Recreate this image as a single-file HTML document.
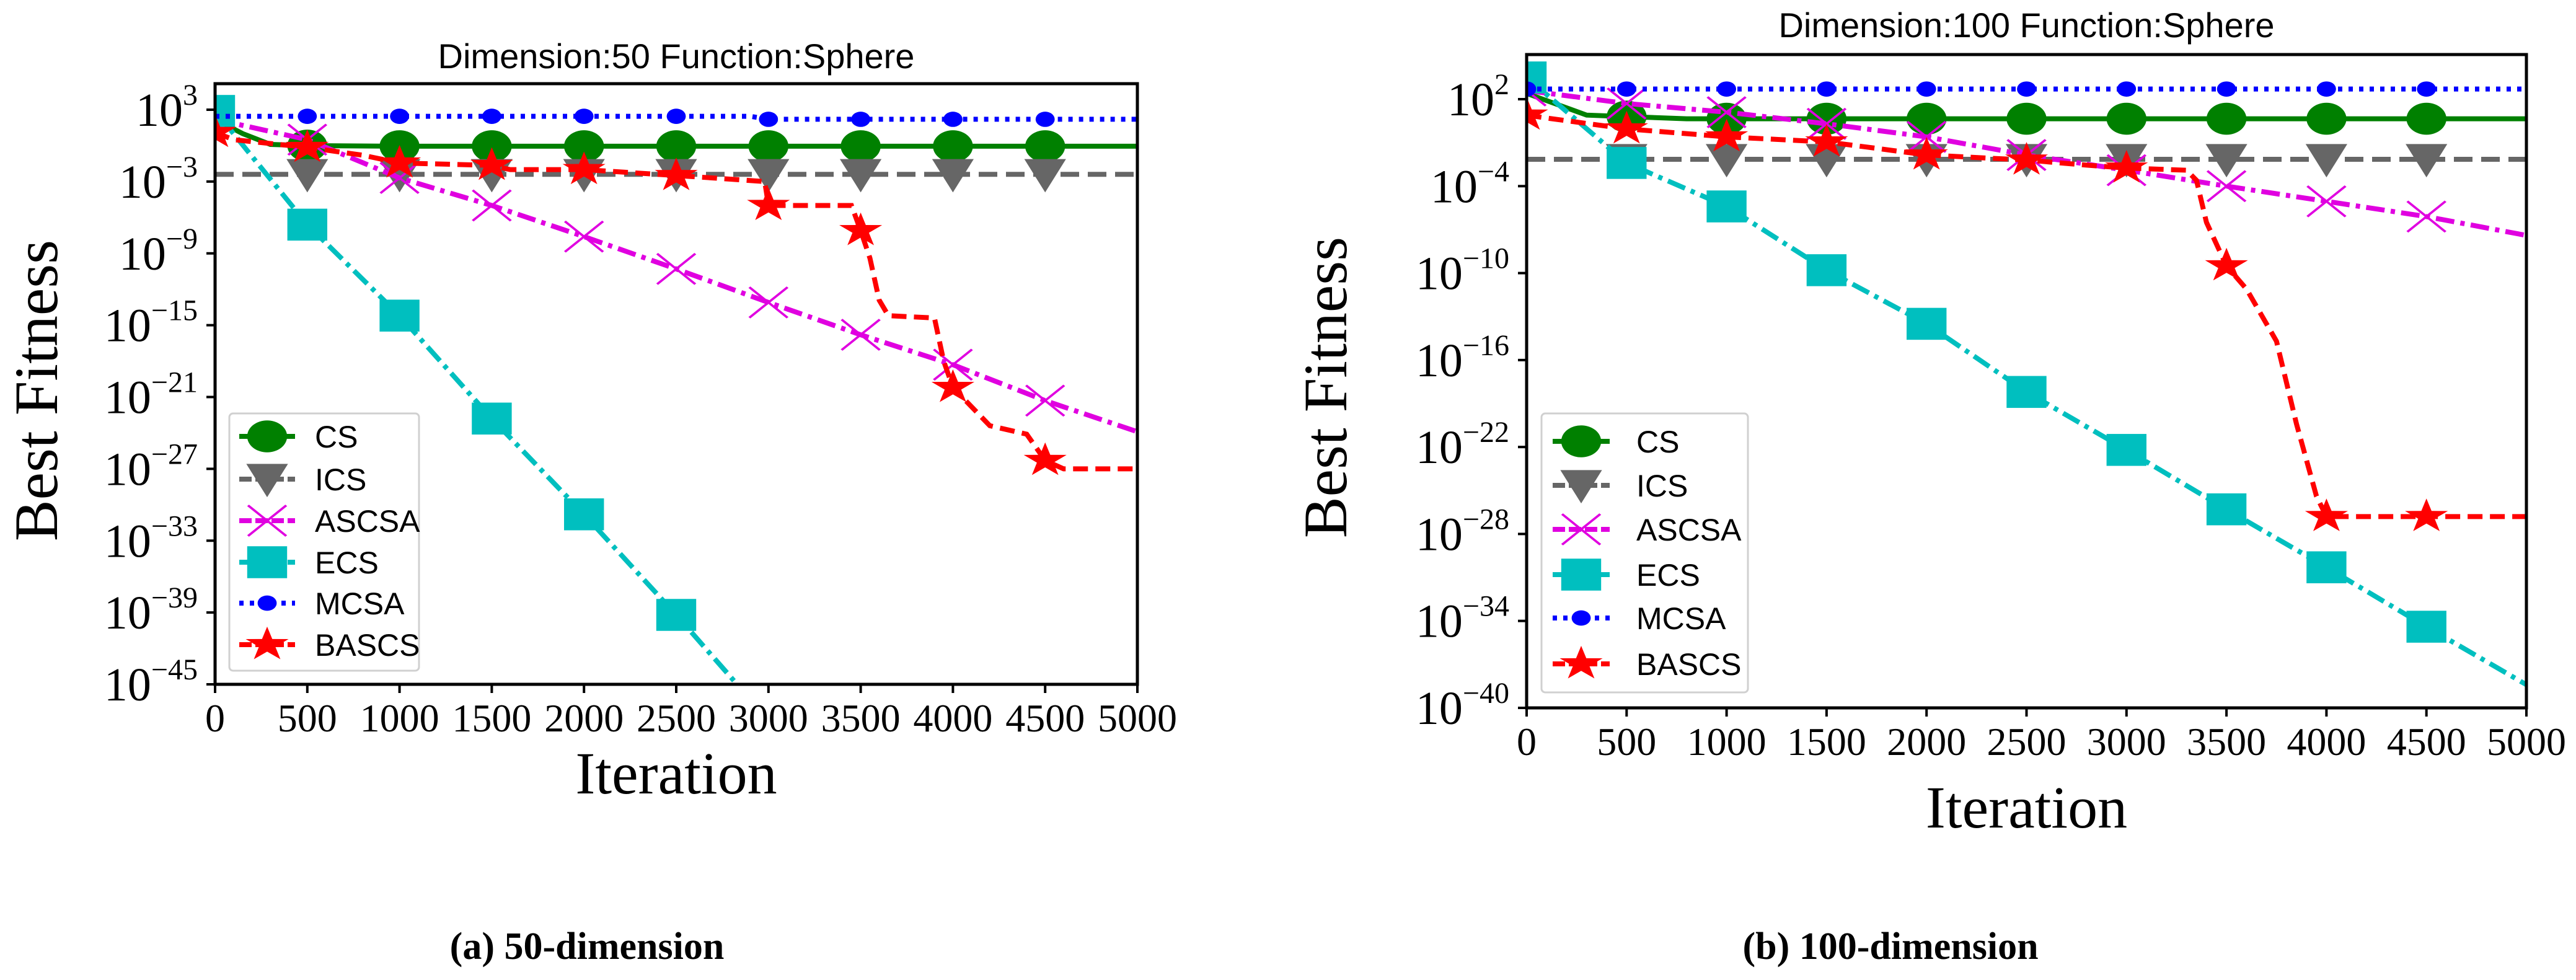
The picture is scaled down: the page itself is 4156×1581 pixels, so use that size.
<!DOCTYPE html>
<html><head><meta charset="utf-8">
<style>
html,body{margin:0;padding:0;background:#fff;}
svg{display:block;}
</style></head>
<body>
<svg id="fig" width="4156" height="1581" viewBox="0 0 4156 1581" xmlns="http://www.w3.org/2000/svg">
<rect x="0" y="0" width="4156" height="1581" fill="#fff"/>
<text x="947" y="1547" text-anchor="middle" font-family="Liberation Serif, serif" font-size="62" font-weight="bold">(a) 50-dimension</text>
<text x="3050" y="1547" text-anchor="middle" font-family="Liberation Serif, serif" font-size="62" font-weight="bold">(b) 100-dimension</text>
</svg>
<script>
// ===== Chart A (Dimension 50) data =====
const iterTicks = [0,500,1000,1500,2000,2500,3000,3500,4000,4500,5000];
const seriesNames = ["CS","ICS","ASCSA","ECS","MCSA","BASCS"];
const aYTicks = [3,-3,-9,-15,-21,-27,-33,-39,-45];
const aCS_x = [0,150,300,500,1000,5000];
const aCS_y = [2.2,1.0,0.1,0.0,-0.05,-0.05];
const aICS_x = [0,5000];
const aICS_y = [-2.4,-2.4];
const aASCSA_x = [0,500,1000,1500,2000,2500,3000,3500,4000,4500,5000];
const aASCSA_y = [2.2,0.5,-2.7,-5,-7.6,-10.3,-13.1,-15.8,-18.3,-21.3,-23.9];
const aECS_x = [0,500,1000,1500,2000,2500,2830];
const aECS_y = [2.9,-6.6,-14.2,-22.8,-30.8,-39.2,-45];
const aMCSA_x = [0,2900,3000,5000];
const aMCSA_y = [2.45,2.45,2.2,2.2];
const aBASCS_x = [0,100,500,800,1000,1500,1600,2000,2500,2700,2980,3000,3450,3500,3550,3600,3650,3900,3950,4000,4200,4400,4500,4600,5000];
const aBASCS_y = [1.1,0.5,-0.15,-0.8,-1.45,-1.65,-2,-2,-2.5,-2.7,-3,-5,-5,-7.1,-9.4,-12.9,-14.2,-14.4,-18,-20.2,-23.4,-24.1,-26.3,-27,-27];

// ===== Chart B (Dimension 100) data =====
const bYTicks = [2,-4,-10,-16,-22,-28,-34,-40];
const bCS_x = [0,300,500,800,5000];
const bCS_y = [2.4,0.9,0.8,0.65,0.65];
const bICS_x = [0,5000];
const bICS_y = [-2.15,-2.15];
const bASCSA_x = [0,500,1000,1500,2000,2500,3000,3500,4000,4500,5000];
const bASCSA_y = [2.6,1.7,1.1,0.3,-0.6,-1.85,-2.9,-4,-5.05,-6.1,-7.4];
const bECS_x = [0,500,1000,1500,2000,2500,3000,3500,4000,4500,5000];
const bECS_y = [3.5,-2.4,-5.4,-9.8,-13.5,-18.2,-22.2,-26.3,-30.3,-34.4,-38.4];
const bMCSA_x = [0,5000];
const bMCSA_y = [2.7,2.7];
const bBASCS_x = [0,100,500,1000,1500,1700,2000,2500,2800,3000,3300,3350,3400,3500,3600,3750,3850,3950,4000,5000];
const bBASCS_y = [0.9,0.7,-0.05,-0.6,-0.95,-1.3,-1.85,-2.2,-2.55,-2.75,-2.9,-3.6,-6.5,-9.5,-11.1,-14.7,-20.4,-25.4,-26.8,-26.8];

const NS = "http://www.w3.org/2000/svg";
const svg = document.getElementById('fig');
function mk(tag, attrs, parent){
  const e = document.createElementNS(NS, tag);
  for (const k in attrs) e.setAttribute(k, attrs[k]);
  (parent||svg).appendChild(e);
  return e;
}
const styles = {
  CS:{color:"#008000",dash:"",marker:"circle"},
  ICS:{color:"#666666",dash:"30,14",marker:"tri"},
  ASCSA:{color:"#e000e0",dash:"30,10,7,10",marker:"x"},
  ECS:{color:"#00bfbf",dash:"30,10,7,10",marker:"square"},
  MCSA:{color:"#0000ff",dash:"7,10",marker:"dot"},
  BASCS:{color:"#ff0000",dash:"24,12",marker:"star"}
};
function drawMarker(g, type, cx, cy, color){
  const t = `translate(${cx},${cy}) scale(1.4,1.12)`;
  let e;
  if (type==="circle") e = mk('circle',{cx:0,cy:0,r:23,fill:color,transform:t},g);
  else if (type==="tri") e = mk('polygon',{points:"-24,-22 24,-22 0,26",fill:color,transform:t},g);
  else if (type==="x") e = mk('path',{d:"M-22,-22L22,22M-22,22L22,-22",stroke:color,'stroke-width':3,fill:"none",transform:t},g);
  else if (type==="square") e = mk('rect',{x:-23,y:-23,width:46,height:46,fill:color,transform:t},g);
  else if (type==="dot") e = mk('circle',{cx:0,cy:0,r:11,fill:color,transform:t},g);
  else if (type==="star"){
    let p=[];
    for(let i=0;i<10;i++){const r=i%2?10:26;const a=-Math.PI/2+i*Math.PI/5;p.push((r*Math.cos(a)).toFixed(1)+","+(r*Math.sin(a)).toFixed(1));}
    e = mk('polygon',{points:p.join(" "),fill:color,transform:t},g);
  }
  return e;
}
function interp(xs, ys, x){
  for (let i=0;i<xs.length-1;i++){
    if (x>=xs[i] && x<=xs[i+1]){
      const f=(x-xs[i])/(xs[i+1]-xs[i]||1);
      return ys[i]+f*(ys[i+1]-ys[i]);
    }
  }
  return null;
}
function chart(cfg){
  const g = mk('g',{});
  
  
  const X = v => cfg.left + (v/5000)*(cfg.right-cfg.left);
  const Y = v => cfg.y0px + (cfg.y0val - v)*cfg.perDec;
  const clip = 'clip-'+cfg.name;
  const defs = mk('defs',{},g);
  const cp = mk('clipPath',{id:clip},defs);
  mk('rect',{x:cfg.left,y:cfg.top,width:cfg.right-cfg.left,height:cfg.bottom-cfg.top},cp);
  const ti = mk('text',{x:(cfg.left+cfg.right)/2,y:cfg.titleY,'text-anchor':'middle','font-family':'Liberation Sans, sans-serif','font-size':56},g);
  
  
  ti.textContent = cfg.title;
  const plot = mk('g',{'clip-path':`url(#${clip})`},g);
  cfg.series.forEach(s=>{
    const st = styles[s.name];
    const sg = mk('g',{},plot);
    
    
    const pts = s.x.map((x,i)=>X(x).toFixed(1)+","+Y(s.y[i]).toFixed(1)).join(" ");
    const pl = mk('polyline',{points:pts,fill:'none',stroke:st.color,'stroke-width':8,'stroke-dasharray':st.dash},sg);
    
    
    s.marks.forEach(mx=>{
      const v = interp(s.x,s.y,mx);
      if (v===null) return;
      const m = drawMarker(sg, st.marker, X(mx), Y(v), st.color);
      
      
    });
  });
  const box = mk('rect',{x:cfg.left,y:cfg.top,width:cfg.right-cfg.left,height:cfg.bottom-cfg.top,fill:'none',stroke:'#000','stroke-width':5},g);
  
  
  iterTicks.forEach(t=>{
    mk('line',{x1:X(t),x2:X(t),y1:cfg.bottom,y2:cfg.bottom+14,stroke:'#000','stroke-width':4},g);
    const tx = mk('text',{x:X(t),y:cfg.bottom+76,'text-anchor':'middle','font-family':'Liberation Serif, serif','font-size':64},g);
    
    
    tx.textContent = t;
  });
  cfg.yTicks.forEach(t=>{
    const y = Y(t);
    mk('line',{x1:cfg.left-14,x2:cfg.left,y1:y,y2:y,stroke:'#000','stroke-width':4},g);
    const tx = mk('text',{x:cfg.left-28,y:y+26,'text-anchor':'end','font-family':'Liberation Serif, serif','font-size':76},g);
    
    
    const b = mk('tspan',{},tx); b.textContent='10';
    const e = mk('tspan',{dy:-34,'font-size':48},tx); e.textContent = (t<0?'\u2212':'')+Math.abs(t);
  });
  const xl = mk('text',{x:(cfg.left+cfg.right)/2,y:cfg.xLabelY,'text-anchor':'middle','font-family':'Liberation Serif, serif','font-size':96},g);
  
  
  xl.textContent='Iteration';
  const yl = mk('text',{x:0,y:0,'text-anchor':'middle','font-family':'Liberation Serif, serif','font-size':100,transform:`translate(${cfg.yLabelX},${cfg.yLabelY}) rotate(-90)`},g);
  
  
  yl.textContent='Best Fitness';
  const L = cfg.legend;
  const lg = mk('g',{},g);
  
  
  mk('rect',{x:L.x,y:L.y,width:L.w,height:L.h,rx:6,fill:'#fff','fill-opacity':0.8,stroke:'#d0d0d0','stroke-width':3},lg);
  seriesNames.forEach((n,i)=>{
    const st = styles[n];
    const y = L.rows[i];
    const eg = mk('g',{},lg);
    
    
    mk('line',{x1:L.lx1,x2:L.lx2,y1:y,y2:y,stroke:st.color,'stroke-width':8,'stroke-dasharray':st.dash==""?"":(st.marker==="dot"?"7,10":"20,6")},eg);
    drawMarker(eg, st.marker, (L.lx1+L.lx2)/2, y, st.color);
    const tx = mk('text',{x:L.tx,y:y+18,'font-family':'Liberation Sans, sans-serif','font-size':50},eg);
    tx.textContent = n;
  });
}
const marks500 = [500,1000,1500,2000,2500,3000,3500,4000,4500];
const marks0 = [0,500,1000,1500,2000,2500,3000,3500,4000,4500];
chart({
  name:'chart-dim50', title:'Dimension:50  Function:Sphere',
  left:347, right:1835, top:135, bottom:1104,
  y0px:177, y0val:3, perDec:(1104-177)/48,
  titleY:110, yTicks:aYTicks, xLabelY:1280, yLabelX:92, yLabelY:630,
  series:[
    {name:'CS',x:aCS_x,y:aCS_y,marks:marks500},
    {name:'ICS',x:aICS_x,y:aICS_y,marks:marks500},
    {name:'ASCSA',x:aASCSA_x,y:aASCSA_y,marks:marks500},
    {name:'ECS',x:aECS_x,y:aECS_y,marks:marks0},
    {name:'MCSA',x:aMCSA_x,y:aMCSA_y,marks:marks500},
    {name:'BASCS',x:aBASCS_x,y:aBASCS_y,marks:marks0}
  ],
  legend:{x:370,y:667,w:306,h:415,rows:[704,773,840,907,973,1040],lx1:386,lx2:476,tx:508}
});
chart({
  name:'chart-dim100', title:'Dimension:100  Function:Sphere',
  left:2463, right:4076, top:88, bottom:1142,
  y0px:160, y0val:2, perDec:(1142-160)/42,
  titleY:60, yTicks:bYTicks, xLabelY:1335, yLabelX:2172, yLabelY:625,
  series:[
    {name:'CS',x:bCS_x,y:bCS_y,marks:marks500},
    {name:'ICS',x:bICS_x,y:bICS_y,marks:marks500},
    {name:'ASCSA',x:bASCSA_x,y:bASCSA_y,marks:marks0},
    {name:'ECS',x:bECS_x,y:bECS_y,marks:marks0},
    {name:'MCSA',x:bMCSA_x,y:bMCSA_y,marks:marks0},
    {name:'BASCS',x:bBASCS_x,y:bBASCS_y,marks:marks0}
  ],
  legend:{x:2487,y:667,w:333,h:450,rows:[712,783,854,927,997,1071],lx1:2505,lx2:2597,tx:2640}
});
</script>
</body></html>
